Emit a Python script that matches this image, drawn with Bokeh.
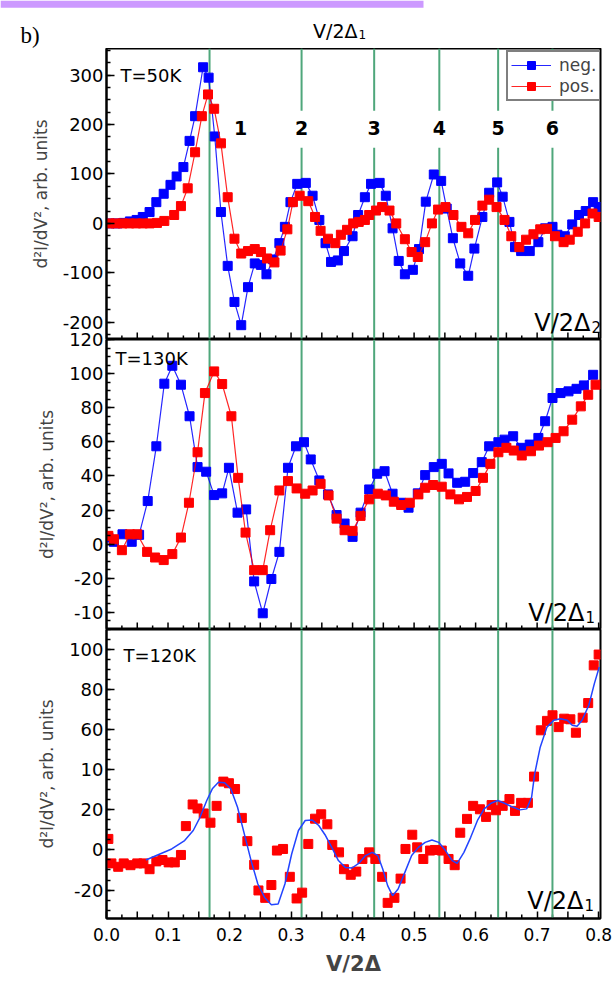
import numpy as np
from bokeh.plotting import figure
from bokeh.layouts import column, row
from bokeh.models import Range1d, FixedTicker, Label, BoxAnnotation, Legend, LegendItem
from bokeh.embed import file_html
from bokeh.resources import INLINE
from bokeh.core.properties import value

# ---------------- data ----------------
# T = 50 K panel (top)
t50_neg_x = [0.005,0.018,0.028,0.038,0.049,0.059,0.070,0.081,0.093,0.104,0.114,0.125,0.135,0.144,0.157,0.166,0.176,0.186,0.197,0.208,
             0.219,0.230,0.241,0.251,0.260,0.271,0.281,0.290,0.299,0.310,0.324,0.335,0.346,0.356,0.365,0.376,0.386,0.400,0.409,0.420,
             0.430,0.444,0.454,0.465,0.475,0.485,0.498,0.508,0.519,0.532,0.544,0.553,0.563,0.575,0.588,0.598,0.611,0.622,0.635,0.644,
             0.655,0.664,0.674,0.688,0.702,0.713,0.725,0.733,0.745,0.757,0.768,0.779,0.791,0.800]
t50_neg_y = [0,0,1,4,7,13,23,43,60,78,95,114,167,217,316,295,176,23,-86,-159,
             -206,-129,-81,-84,-103,-73,-40,-7,43,80,82,56,7,-40,-78,-75,-56,-26,17,53,
             80,82,56,-10,-76,-103,-94,-52,44,99,86,30,-30,-81,-106,-51,13,62,83,54,
             3,-48,-56,-56,-38,-10,-7,-23,-26,-2,17,25,43,33]
t50_pos_x = [0.005,0.015,0.026,0.037,0.048,0.059,0.070,0.082,0.094,0.110,0.121,0.132,0.144,0.155,0.165,0.175,0.186,0.197,0.208,0.219,
             0.230,0.241,0.251,0.261,0.273,0.283,0.294,0.303,0.314,0.328,0.339,0.348,0.360,0.372,0.381,0.391,0.401,0.410,0.420,0.427,
             0.438,0.448,0.460,0.471,0.485,0.496,0.506,0.518,0.529,0.539,0.551,0.564,0.577,0.588,0.599,0.611,0.622,0.634,0.647,0.658,
             0.671,0.682,0.694,0.705,0.716,0.729,0.743,0.753,0.766,0.778,0.790,0.800]
t50_pos_y = [0,0,0,0,0,0,0,1,5,17,35,71,144,217,261,232,162,53,-31,-61,
             -56,-52,-58,-71,-79,-55,-12,43,56,45,13,-15,-31,-40,-23,-13,0,3,7,17,
             26,33,26,0,-32,-58,-68,-38,0,28,33,17,-7,-20,7,36,48,33,7,-26,
             -48,-33,-22,-12,-11,-26,-38,-33,-17,0,20,13]

# T = 130 K panel (middle)
t130_neg_x = [0.003,0.012,0.026,0.041,0.053,0.067,0.081,0.094,0.107,0.121,0.135,0.148,0.162,0.175,0.188,0.199,0.213,0.227,0.240,0.254,
              0.268,0.281,0.295,0.308,0.321,0.332,0.346,0.360,0.374,0.387,0.400,0.413,0.427,0.440,0.452,0.465,0.479,0.491,0.506,0.518,
              0.532,0.545,0.556,0.570,0.583,0.596,0.610,0.622,0.637,0.647,0.661,0.674,0.688,0.702,0.713,0.725,0.738,0.751,0.764,0.776,0.791]
t130_neg_y = [3.9,1.4,5.8,1.4,5.5,25.3,57.4,94.1,104.6,93.5,75,45.2,42.5,28.8,29.8,44.8,18.5,20.4,-21.8,-40.5,
              -20.4,-4.5,44.8,57.4,59.8,49.7,37.4,29.2,17.1,12.1,4.3,18.5,32.1,41.3,42.8,29.6,24.3,21.4,29.8,40.5,
              45.2,47.1,41.5,36,36.6,41.7,48.1,57.4,59.8,61.3,63.3,56.5,58.4,62.3,72.1,85.7,88.6,89.6,91.1,93.1,99.3]
t130_pos_x = [0.003,0.012,0.025,0.038,0.050,0.066,0.079,0.093,0.107,0.121,0.134,0.148,0.160,0.175,0.188,0.203,0.214,0.226,0.240,0.254,
              0.266,0.281,0.295,0.309,0.323,0.335,0.348,0.361,0.374,0.387,0.400,0.413,0.427,0.441,0.454,0.467,0.479,0.493,0.507,0.518,
              0.531,0.545,0.559,0.573,0.586,0.600,0.612,0.624,0.637,0.650,0.662,0.675,0.690,0.703,0.717,0.730,0.743,0.757,0.771,0.783,0.795]
t130_pos_y = [4.9,2.9,-3.5,5.8,5.8,-4.5,-7.8,-9.3,-5.8,3.9,24.3,53.9,88.6,101.3,93.9,75,38.9,6.8,-15.2,-15.2,
              8.2,31.5,37,32.7,29.6,31.5,35.4,28.6,15,8.2,7.8,16.6,26.3,29.6,28.6,24.9,23,24.3,29.2,33.1,
              34.7,33.7,29.2,26.3,27.7,31.2,38.9,47.1,53.9,56.5,54.9,52,54.5,57.8,59.8,62.3,66.2,73,80.8,87.6,93.5]

# T = 120 K panel (bottom): measured points and fitted curve
t120_x = [0.003,0.008,0.019,0.028,0.039,0.050,0.060,0.070,0.081,0.091,0.101,0.111,0.121,0.129,0.140,0.148,0.158,0.169,0.179,0.190,
          0.199,0.209,0.220,0.229,0.240,0.247,0.258,0.268,0.277,0.287,0.298,0.309,0.318,0.328,0.339,0.349,0.359,0.367,0.378,0.386,
          0.397,0.406,0.416,0.427,0.437,0.448,0.457,0.468,0.478,0.486,0.497,0.505,0.515,0.526,0.534,0.545,0.556,0.566,0.575,0.586,
          0.596,0.607,0.617,0.626,0.633,0.644,0.655,0.664,0.674,0.685,0.695,0.706,0.716,0.725,0.735,0.744,0.754,0.763,0.774,0.783,
          0.792,0.800]
t120_y = [5.5,-6.7,-8.4,-6.7,-7.6,-6.7,-6.7,-9.6,-5.7,-5,-6.2,-6.2,-2.5,11.9,22.7,20.7,18.2,13.6,22,34.1,
          33.3,30.4,16,4.4,-7.4,-20.2,-23.9,-17.5,-0.3,0.5,-13.4,-24.2,-21.3,3,15.6,17.8,12.8,2.5,-1.2,-9.6,
          -12.4,-10.8,-4.5,-1.2,-4.5,-13.4,-26.4,-23.9,-14.3,0.5,7.6,1.3,-4.5,-0.3,0,-0.3,-4.5,-7.6,8.6,15.5,
          22,20.3,16.5,22.4,19.8,22,25.4,19.5,23.5,23.5,36.6,59.7,64.4,67.2,61.3,65.5,65.2,58.5,66,73.3,
          92.1,97.5]
fit_x = [0.064,0.083,0.106,0.127,0.141,0.152,0.163,0.172,0.182,0.192,0.202,0.213,0.224,0.235,0.246,0.257,0.268,0.279,0.290,0.301,
         0.312,0.323,0.334,0.345,0.356,0.367,0.377,0.388,0.399,0.410,0.421,0.432,0.441,0.449,0.457,0.465,0.474,0.485,0.496,0.507,
         0.518,0.529,0.540,0.551,0.562,0.570,0.581,0.592,0.603,0.614,0.625,0.636,0.647,0.658,0.672,0.683,0.691,0.696,0.705,0.716,
         0.727,0.738,0.749,0.757,0.765,0.773,0.784,0.793,0.801]
fit_y = [-5,-2.5,0.5,4.7,9.7,16.3,24.7,30.5,33.8,33.5,30.5,21.3,8,-5.3,-17,-23.7,-27.3,-27,-17,-2,
         9.7,14.7,15,12.2,7.2,0.8,-5.3,-8.7,-9,-6.7,-2.8,-1.2,-2.8,-9.5,-17.8,-22.8,-19.5,-11.2,-2.8,1.3,
         3.8,5,3.8,-0.3,-5.3,-6.7,-1.2,6.3,14.7,20.5,23.3,24.7,23.3,21.7,20,20.5,26.3,38,51.3,61.3,
         64.7,65.5,64.7,62.2,61.7,64.7,72.2,83,91.3]

# harmonic positions (green lines) and their numbers
harmonic_x = [0.1675, 0.3171, 0.4351, 0.5410, 0.6366, 0.7249]
number_x = [0.218, 0.3171, 0.4351, 0.5410, 0.6366, 0.7249]
number_labels = ["1", "2", "3", "4", "5", "6"]

x_label_ticks = [round(0.1 * i, 1) for i in range(9)]
x_label_text = ["0.0", "0.1", "0.2", "0.3", "0.4", "0.5", "0.6", "0.7", "0.8"]
x_half_ticks = [round(0.05 * i, 2) for i in range(1, 17, 2)]
x_quarter_ticks = [round(0.025 * i, 3) for i in range(1, 33, 2)]

FONT = "DejaVu Sans"
GREEN = "#4fa77b"
BLUE = "#0000ff"
RED = "#ff0000"
YLABEL = "d\u00b2I/dV\u00b2, arb. units"
FRAME_W = 494
OVERLAP = 14


def make_fig(yr, frame_h, btop, bbottom, yticks, yminor, ylabels, show_x):
    p = figure(frame_width=FRAME_W, frame_height=frame_h,
               x_range=Range1d(0, 0.803), y_range=Range1d(*yr),
               min_border_left=106, min_border_right=16,
               min_border_top=btop, min_border_bottom=bbottom,
               x_axis_location="below" if show_x else None,
               output_backend="svg", toolbar_location=None)
    p.grid.visible = False
    p.outline_line_color = "black"
    p.outline_line_width = 2
    p.outline_line_alpha = 1
    p.background_fill_color = "white"
    unit = (yr[1] - yr[0]) / frame_h
    # inward x ticks drawn at the bottom edge of the frame
    tx = x_half_ticks + x_quarter_ticks + ([] if show_x else x_label_ticks)
    tl = [7] * len(x_half_ticks) + [4] * len(x_quarter_ticks) + ([] if show_x else [7] * len(x_label_ticks))
    p.segment(x0=tx, y0=[yr[0]] * len(tx), x1=tx, y1=[yr[0] + l * unit for l in tl],
              line_color="black", line_width=1.5)
    if show_x:
        xa = p.xaxis[0]
        xa.ticker = FixedTicker(ticks=x_label_ticks, minor_ticks=[])
        xa.major_label_overrides = {t: s for t, s in zip(x_label_ticks, x_label_text)}
        xa.major_tick_in = 7
        xa.major_tick_out = 0
        xa.minor_tick_in = 0
        xa.minor_tick_out = 0
        xa.axis_line_width = 2
        xa.major_tick_line_width = 1.5
        xa.major_label_text_font = FONT
        xa.major_label_text_font_size = "17px"
        xa.major_label_text_color = "black"
        xa.major_label_standoff = 9
        xa.axis_label = "V/2\u0394"
        xa.axis_label_text_font = FONT
        xa.axis_label_text_font_style = "bold"
        xa.axis_label_text_font_size = "21px"
        xa.axis_label_standoff = 8
    ya = p.yaxis[0]
    ya.ticker = FixedTicker(ticks=yticks, minor_ticks=yminor)
    ya.major_label_overrides = {t: s for t, s in zip(yticks, ylabels)}
    ya.major_tick_in = 8
    ya.major_tick_out = 0
    ya.minor_tick_in = 4
    ya.minor_tick_out = 0
    ya.axis_line_width = 2
    ya.major_tick_line_width = 1.5
    ya.minor_tick_line_width = 1.5
    ya.major_label_text_font = FONT
    ya.major_label_text_font_size = "18px"
    ya.major_label_text_color = "black"
    ya.major_label_standoff = 3
    ya.axis_label = YLABEL
    ya.axis_label_text_font = FONT
    ya.axis_label_text_font_style = "normal"
    ya.axis_label_text_font_size = "17px"
    ya.axis_label_standoff = 9
    return p


def add_label(p, x, y, text, size, align="left", baseline="alphabetic", style="normal", font=FONT):
    p.add_layout(Label(x=x, y=y, x_units="screen", y_units="screen", text=text,
                       text_font=font, text_font_size=size, text_font_style=style,
                       text_align=align, text_baseline=baseline, text_color="black"))


def add_vsub(p, x, y_base, main, sub):
    add_label(p, x, y_base, main, "24px", align="right")
    add_label(p, x + 1, y_base + 2, sub, "15px", align="left", baseline="top")


# ---------------- header strip ----------------
p0 = figure(frame_width=616, frame_height=48, x_range=Range1d(0, 616), y_range=Range1d(0, 48),
            min_border_left=0, min_border_right=0, min_border_top=0, min_border_bottom=0,
            x_axis_location=None, y_axis_location=None,
            output_backend="svg", toolbar_location=None)
p0.grid.visible = False
p0.outline_line_color = None
p0.add_layout(BoxAnnotation(left=0, right=423, top=48, bottom=40.7,
                            fill_color="#cc99ff", fill_alpha=1, line_color=None))
add_label(p0, 20, 13, "b)", "23px", font="Liberation Serif")
add_label(p0, 357, 18, "V/2\u0394", "19px", align="right")
add_label(p0, 358, 19, "1", "12px", align="left", baseline="top")

# ---------------- top panel: T=50K ----------------
Y1 = (-235, 354)
p1 = make_fig(Y1, 291, 0, 0, [-200, -100, 0, 100, 200, 300],
              list(range(-225, 351, 25)), ["-200", "-100", "0", "100", "200", "300"], False)
gap_lo, gap_hi = 153, 228
seg_x0, seg_y0, seg_y1 = [], [], []
for i, hx in enumerate(harmonic_x):
    if i == 0:
        seg_x0 += [hx]; seg_y0 += [Y1[0]]; seg_y1 += [Y1[1]]
    else:
        seg_x0 += [hx, hx]; seg_y0 += [Y1[0], gap_hi]; seg_y1 += [gap_lo, Y1[1]]
p1.segment(x0=seg_x0, y0=seg_y0, x1=seg_x0, y1=seg_y1, line_color=GREEN, line_width=2)
p1.text(x=number_x, y=[194] * len(number_x), text=number_labels, text_font=value(FONT),
        text_font_style="bold", text_font_size="19px", text_align="center",
        text_baseline="middle", text_color="black")
n_line = p1.line(t50_neg_x, t50_neg_y, line_color=BLUE, line_width=1.2, line_alpha=0.85)
n_pts = p1.scatter(t50_neg_x, t50_neg_y, marker="square", size=9, fill_color=BLUE, line_color=BLUE)
p_line = p1.line(t50_pos_x, t50_pos_y, line_color=RED, line_width=1.2, line_alpha=0.85)
p_pts = p1.scatter(t50_pos_x, t50_pos_y, marker="square", size=9, fill_color=RED, line_color=RED)
legend = Legend(items=[LegendItem(label="neg.", renderers=[n_line, n_pts]),
                       LegendItem(label="pos.", renderers=[p_line, p_pts])],
                location=(400, 238), orientation="vertical")
legend.glyph_width = 40
legend.glyph_height = 20
legend.label_standoff = 8
legend.padding = 3
legend.spacing = 1
legend.margin = 0
legend.border_line_color = "black"
legend.border_line_width = 2
legend.background_fill_alpha = 1
legend.label_text_font = FONT
legend.label_text_font_size = "17px"
p1.add_layout(legend)
add_label(p1, 14, 264, "T=50K", "18px")
add_vsub(p1, 484, 17, "V/2\u0394", "2")

# ---------------- middle panel: T=130K ----------------
Y2 = (-50, 120)
p2 = make_fig(Y2, 290, OVERLAP, 0, [-40, -20, 0, 20, 40, 60, 80, 100, 120],
              list(range(-50, 121, 5)), ["-10", "-20", "0", "20", "40", "60", "80", "100", "120"], False)
p2.border_fill_alpha = 0
p2.margin = (-OVERLAP, 0, 0, 0)
p2.segment(x0=harmonic_x, y0=[Y2[0]] * 6, x1=harmonic_x, y1=[Y2[1]] * 6, line_color=GREEN, line_width=2)
p2.line(t130_neg_x, t130_neg_y, line_color=BLUE, line_width=1.2, line_alpha=0.85)
p2.scatter(t130_neg_x, t130_neg_y, marker="square", size=9, fill_color=BLUE, line_color=BLUE)
p2.line(t130_pos_x, t130_pos_y, line_color=RED, line_width=1.2, line_alpha=0.85)
p2.scatter(t130_pos_x, t130_pos_y, marker="square", size=9, fill_color=RED, line_color=RED)
add_label(p2, 9, 271, "T=130K", "18px")
add_vsub(p2, 478, 17, "V/2\u0394", "1")

# ---------------- bottom panel: T=120K ----------------
Y3 = (-34.2, 110)
p3 = make_fig(Y3, 289, 0, 63, [-20, 0, 20, 40, 60, 80, 100],
              list(range(-30, 111, 5)), ["-20", "0", "20", "10", "60", "80", "100"], True)
p3.segment(x0=harmonic_x, y0=[Y3[0]] * 6, x1=harmonic_x, y1=[Y3[1]] * 6, line_color=GREEN, line_width=2)
p3.scatter(t120_x, t120_y, marker="square", size=9, fill_color=RED, line_color=RED)
p3.line(fit_x, fit_y, line_color="#2244ff", line_width=1.5)
add_label(p3, 17, 263, "T=120K", "18px")
add_vsub(p3, 477, 18, "V/2\u0394", "1")

layout = column(row(p0), p1, p2, p3, spacing=0)
open("out.html", "w").write(file_html(layout, INLINE))
